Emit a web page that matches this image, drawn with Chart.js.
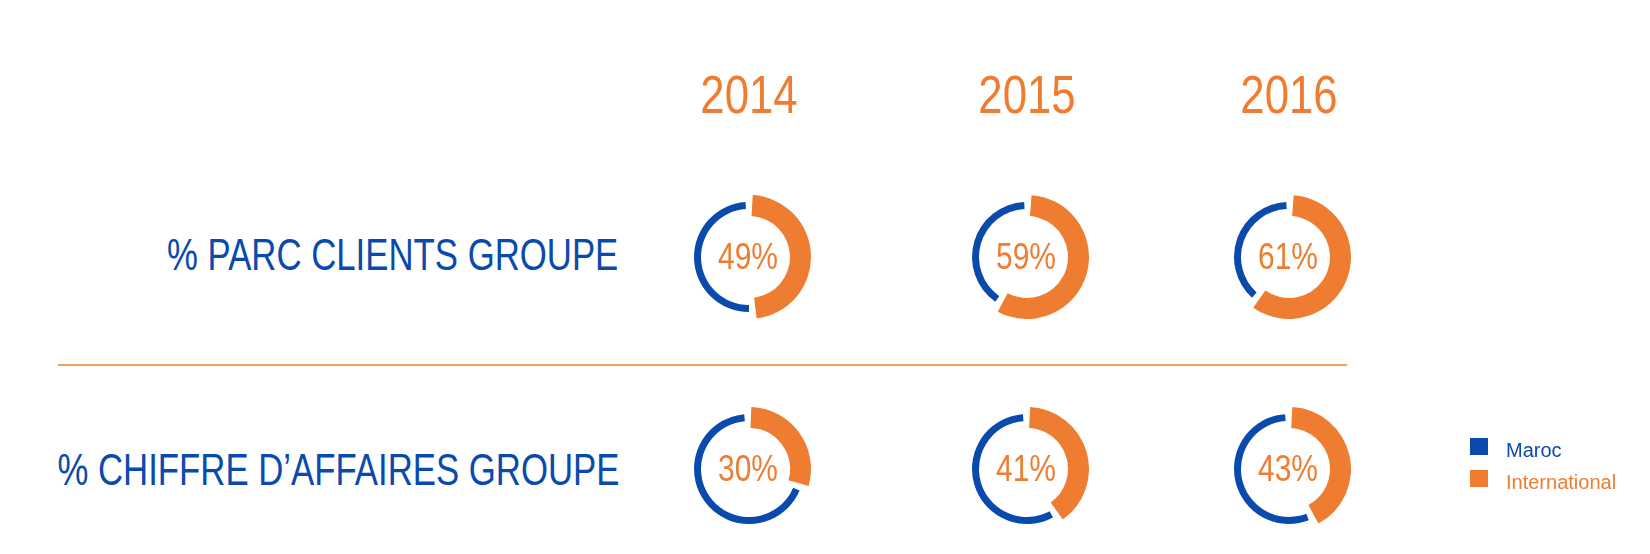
<!DOCTYPE html>
<html>
<head>
<meta charset="utf-8">
<script src="https://cdn.jsdelivr.net/npm/chart.js@4/dist/chart.umd.min.js"></script>
<style>
  html, body {
    margin: 0;
    padding: 0;
    background: #ffffff;
  }
  #stage {
    position: relative;
    width: 1650px;
    height: 554px;
    overflow: hidden;
    font-family: "Liberation Sans", Arial, sans-serif;
  }
  .label {
    position: absolute;
    white-space: nowrap;
  }
  .donut {
    position: absolute;
  }
  .divider {
    position: absolute;
    left: 58px;
    top: 364px;
    width: 1289px;
    height: 1.5px;
    background: #f0a063;
  }
  .legend-box {
    position: absolute;
    width: 18px;
    height: 17px;
  }
  .legend-text {
    position: absolute;
    font-size: 20px;
    line-height: 20px;
    white-space: nowrap;
  }
</style>
</head>
<body>
<div id="stage">
  <div class="divider"></div>
</div>
<script>
const years = ["2014", "2015", "2016"];
const rowLabels = ["% PARC CLIENTS GROUPE", "% CHIFFRE D\u2019AFFAIRES GROUPE"];
const parcInternational = [49, 59, 61];
const parcMaroc = [51, 41, 39];
const caInternational = [30, 41, 43];
const caMaroc = [70, 59, 57];
const legendLabels = ["Maroc", "International"];

const BLUE = "#0a4aad";
const ORANGE = "#ee7d32";
const CLEAR = "rgba(0,0,0,0)";

const stage = document.getElementById("stage");
const colCenters = [749, 1026.5, 1289];
const rowCenters = [257, 469];

// ring geometry in px
const OUTER = 62;
const ORANGE_INNER = 41;
const BLUE_OUTER = 55;
const GAP = 4;

// the original uses a condensed face, squeeze Liberation Sans instead
const CONDENSE_TEXT = 0.79;
const CONDENSE_DIGITS = 0.81;

function addLabel(text, opts) {
  const el = document.createElement("div");
  el.className = "label";
  el.textContent = text;
  el.style.fontSize = `${opts.size}px`;
  el.style.lineHeight = `${opts.size}px`;
  el.style.color = opts.color;
  el.style.top = `${opts.cy - opts.size * 0.49}px`;
  if (opts.align === "right") {
    el.style.right = `${1650 - opts.x}px`;
    el.style.transformOrigin = "right center";
    el.style.transform = `scaleX(${opts.squeeze})`;
  } else {
    el.style.left = `${opts.x}px`;
    el.style.transform = `translateX(-50%) scaleX(${opts.squeeze})`;
  }
  stage.appendChild(el);
  return el;
}

function createDonut(cx, cy, international, maroc) {
  const canvas = document.createElement("canvas");
  canvas.className = "donut";
  canvas.width = OUTER * 2;
  canvas.height = OUTER * 2;
  canvas.style.left = `${cx - OUTER}px`;
  canvas.style.top = `${cy - OUTER}px`;
  stage.appendChild(canvas);

  // each ring is half of the weight total, arcs get pushed out by GAP / 2
  const maxSize = OUTER - GAP / 2;
  const orangeCut = (2 * (ORANGE_INNER - GAP / 2) - maxSize) / maxSize;
  const blueCut = (2 * (BLUE_OUTER - GAP / 2) - maxSize) / maxSize;

  new Chart(canvas, {
    type: "doughnut",
    data: {
      labels: ["International", "Maroc"],
      datasets: [
        {
          label: "International",
          data: [international, maroc],
          backgroundColor: [ORANGE, CLEAR],
          borderWidth: 0,
          spacing: GAP,
          cutout: `${orangeCut * 100}%`
        },
        {
          label: "Maroc",
          data: [international, maroc],
          backgroundColor: [CLEAR, BLUE],
          borderWidth: 0,
          spacing: GAP,
          cutout: `${blueCut * 100}%`
        }
      ]
    },
    options: {
      responsive: false,
      animation: false,
      events: [],
      layout: { padding: 0 },
      plugins: {
        legend: { display: false },
        tooltip: { enabled: false }
      }
    }
  });

  addLabel(`${international}%`, { x: cx - 1, cy: cy - 1, size: 37, color: ORANGE, squeeze: CONDENSE_DIGITS });
}

years.forEach((year, i) => {
  addLabel(year, { x: colCenters[i], cy: 93, size: 54, color: ORANGE, squeeze: CONDENSE_DIGITS });
});

addLabel(rowLabels[0], { x: 618, cy: 255, size: 44, color: BLUE, align: "right", squeeze: CONDENSE_TEXT });
addLabel(rowLabels[1], { x: 619, cy: 470, size: 44, color: BLUE, align: "right", squeeze: CONDENSE_TEXT });

years.forEach((year, i) => {
  createDonut(colCenters[i], rowCenters[0], parcInternational[i], parcMaroc[i]);
  createDonut(colCenters[i], rowCenters[1], caInternational[i], caMaroc[i]);
});

[BLUE, ORANGE].forEach((color, i) => {
  const box = document.createElement("div");
  box.className = "legend-box";
  box.style.left = "1470px";
  box.style.top = `${438 + i * 32}px`;
  box.style.background = color;
  stage.appendChild(box);

  const text = document.createElement("div");
  text.className = "legend-text";
  text.textContent = legendLabels[i];
  text.style.left = "1506px";
  text.style.top = `${450 - 10 + i * 32}px`;
  text.style.color = color;
  stage.appendChild(text);
});
</script>
</body>
</html>
